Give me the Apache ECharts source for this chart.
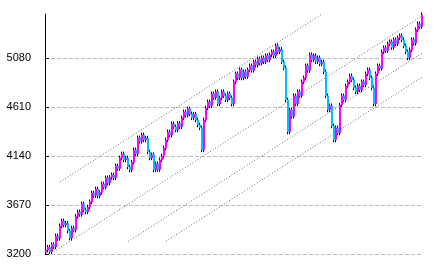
<!DOCTYPE html>
<html><head><meta charset="utf-8">
<script src="https://cdn.jsdelivr.net/npm/echarts@6/dist/echarts.min.js"></script>
<style>html,body{margin:0;padding:0;background:#fff}#c{width:434px;height:268px}</style>
</head><body><div id="c"></div>
<script>
// closing values, one per candle (left to right)
const closes = [
3238,3265,3222,3290,3268,3373,3350,3470,3517,3478,3495,3420,3353,3449,3430,3560,3603,3580,3680,3622,
3603,3650,3700,3785,3760,3823,3756,3790,3871,3840,3929,3880,3935,3958,3930,4044,4020,4121,4159,4102,
4120,4034,4006,4080,4198,4160,4313,4280,4341,4293,4310,4178,4121,4150,4006,4063,4010,4102,4140,4217,
4293,4370,4340,4447,4418,4389,4450,4420,4505,4562,4530,4591,4543,4505,4540,4485,4437,4409,4198,4485,
4600,4658,4620,4735,4700,4754,4639,4696,4754,4716,4677,4735,4696,4639,4850,4927,4890,4965,4888,4946,
4900,4965,5003,4960,5042,5010,5070,5030,5080,5042,5100,5060,5109,5138,5100,5195,5138,5160,5042,4984,
4677,4370,4581,4520,4716,4640,4754,4720,4850,4888,5003,4960,5109,5061,5099,5042,5080,5022,5040,4946,
4716,4581,4620,4428,4293,4409,4360,4629,4716,4680,4811,4850,4907,4869,4792,4754,4811,4773,4850,4820,
4927,4965,4888,4792,4639,4927,5003,4980,5138,5176,5150,5214,5234,5180,5253,5214,5272,5291,5253,5195,
5138,5080,5157,5253,5220,5349,5406,5380,5492
];
const firstOpen = 3215;
const wick = 22;
// y axis tick labels
const tickLabels = [3200, 3670, 4140, 4610, 5080];
// dotted channel lines: [candle index, value] start and end
const channelLine1 = [[7, 3891], [138, 5500]];
const channelLine2 = [[5, 3235], [188, 5481]];
const channelLine3 = [[41, 3319], [188, 5124]];
const channelLine4 = [[60, 3322], [188, 4893]];

const categories = closes.map((_, i) => i);
const opens = closes.map((c, i) => i === 0 ? firstOpen : closes[i - 1]);
const wickData = closes.map((c, i) => { const o = opens[i]; return [o, c, Math.min(o, c) - wick, Math.max(o, c) + wick]; });
const bodyData = closes.map((c, i) => { const o = opens[i]; return [o, c, Math.min(o, c), Math.max(o, c)]; });

function channel(d) {
  return { type: 'line', data: d, symbol: 'none', silent: true, z: 1,
    lineStyle: { color: '#666', width: 1, type: [1, 2] } };
}

const chart = echarts.init(document.getElementById('c'), null, { renderer: 'canvas' });
chart.setOption({
  animation: false,
  grid: { left: 45, right: 11, top: 14, bottom: 14 },
  xAxis: { type: 'category', data: categories, show: false, boundaryGap: true },
  yAxis: {
    type: 'value', min: 3200, max: 5500, interval: 470,
    axisLine: { show: true, lineStyle: { color: '#000', width: 1 } },
    axisTick: { show: true, inside: true, length: 4, lineStyle: { color: '#000' } },
    axisLabel: { color: '#000', fontFamily: 'Liberation Sans', fontSize: 11, margin: 14,
      showMaxLabel: false,
      formatter: v => tickLabels.indexOf(v) >= 0 ? String(v) : '' },
    splitLine: { show: true, showMaxLine: false, lineStyle: { color: '#bdbdbd', width: 1, type: [4, 2] } }
  },
  series: [
    channel(channelLine1), channel(channelLine2), channel(channelLine3), channel(channelLine4),
    { type: 'candlestick', data: wickData, barWidth: 1, z: 2, silent: true,
      itemStyle: { color: '#000', color0: '#000', borderColor: '#000', borderColor0: '#000', borderWidth: 1 } },
    { type: 'candlestick', data: bodyData, barWidth: 2, z: 3, silent: true,
      itemStyle: { color: '#ff00ff', color0: '#00bfff', borderColor: '#ff00ff', borderColor0: '#00bfff', borderWidth: 1 } }
  ]
});
</script></body></html>
